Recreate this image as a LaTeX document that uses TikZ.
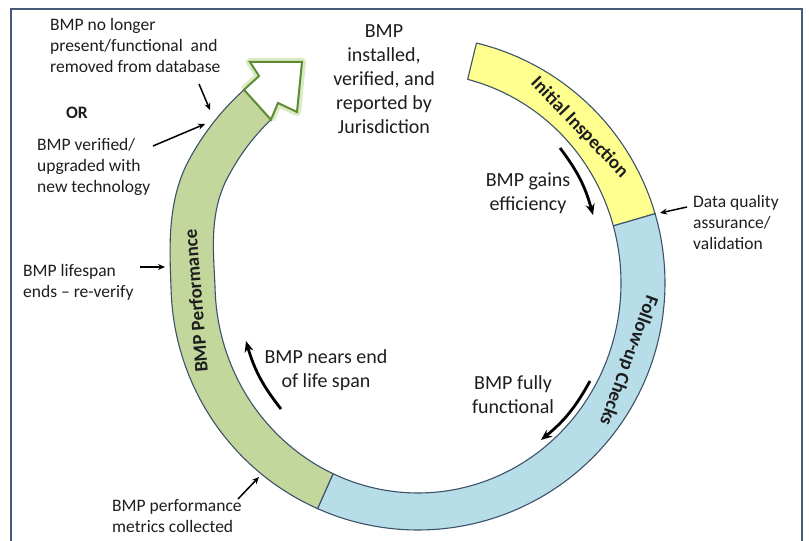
\documentclass[tikz,border=0pt]{standalone}
\usepackage{fontspec}
\setmainfont{Carlito}
\usetikzlibrary{arrows.meta}
\definecolor{bandyellow}{RGB}{255,255,143}
\definecolor{bandblue}{RGB}{183,221,232}
\definecolor{bandgreen}{RGB}{195,214,155}
\definecolor{bandline}{RGB}{60,82,105}
\definecolor{headgreen}{RGB}{95,140,50}
\definecolor{glowgreen}{RGB}{160,205,110}
\definecolor{framecol}{RGB}{70,90,120}
\definecolor{txt}{RGB}{30,30,30}
\begin{document}
\begin{tikzpicture}[x=1pt,y=1pt,
  declare function={
    clampone(\x)=min(1,max(0,\x));
    bmpramp(\t)=13*(clampone((-178-\t)/30))^2*(3-2*clampone((-178-\t)/30));
    ro(\t)=247+bmpramp(\t);
    ri(\t)=203/sqrt((cos(\t))^2+(0.96667*sin(\t))^2)+bmpramp(\t);
  },
  lab/.style={font=\fontsize{17.5}{21}\selectfont, text=txt, inner sep=0pt, align=left},
  big/.style={font=\fontsize{20}{24}\selectfont, text=txt, inner sep=0pt, align=center},
  bandlab/.style={font=\bfseries\fontsize{19}{22}\selectfont, text=txt, inner sep=0pt},
  seg/.style={draw=bandline, line width=1.1pt, line join=round},
  smallarrow/.style={-{Stealth[length=7pt,width=6pt]}, line width=1.5pt, draw=black},
  curvarrow/.style={-{Stealth[length=11pt,width=9pt]}, line width=2.8pt, draw=black},
]
\useasboundingbox (0,0) rectangle (809,541);
\fill[white] (0,0) rectangle (809,541);
% frame
\draw[framecol, line width=2.5pt] (11,0) -- (11,532) -- (802,532) -- (802,0);

% ring segments
\filldraw[seg, fill=bandyellow]
  plot[variable=\t, domain=76.3:16.3, samples=30, smooth] ({418+ro(\t)*cos(\t)},{258+ro(\t)*sin(\t)})
  -- plot[variable=\t, domain=16.3:76.3, samples=30, smooth] ({418+ri(\t)*cos(\t)},{258+ri(\t)*sin(\t)})
  -- cycle;
\filldraw[seg, fill=bandblue]
  plot[variable=\t, domain=16.3:-114, samples=50, smooth] ({418+ro(\t)*cos(\t)},{258+ro(\t)*sin(\t)})
  -- plot[variable=\t, domain=-114:16.3, samples=50, smooth] ({418+ri(\t)*cos(\t)},{258+ri(\t)*sin(\t)})
  -- cycle;
\filldraw[seg, fill=bandgreen]
  plot[variable=\t, domain=-114:-228, samples=50, smooth] ({418+ro(\t)*cos(\t)},{258+ro(\t)*sin(\t)})
  -- plot[variable=\t, domain=-228:-114, samples=50, smooth] ({418+ri(\t)*cos(\t)},{258+ri(\t)*sin(\t)})
  -- cycle;

% hollow arrow head
\coordinate (hS1) at ({418+ro(-228)*cos(-228)},{258+ro(-228)*sin(-228)});
\coordinate (hS2) at ({418+ri(-228)*cos(-228)},{258+ri(-228)*sin(-228)});
\coordinate (hN1) at (259,465);
\coordinate (hA) at (250,479);
\coordinate (hT) at (302,479);
\coordinate (hB) at (297,429);
\coordinate (hN2) at (278,438);
\draw[glowgreen, line width=8pt, opacity=0.4, line join=round]
  (hS1) -- (hN1) -- (hA) -- (hT) -- (hB) -- (hN2) -- (hS2);
\filldraw[fill=white, draw=headgreen, line width=2pt, line join=miter]
  (hS1) -- (hN1) -- (hA) -- (hT) -- (hB) -- (hN2) -- (hS2) -- cycle;

% band labels
\node[bandlab, rotate=-46.1] (l1) at ([shift={(418,258)}] 43.9:224) {Initial Inspection};
\node[bandlab, rotate=-110.2] (l2) at ([shift={(418,258)}] -20.2:224) {Follow-up Checks};
\node[bandlab, rotate=94.6] (l3) at ([shift={(418,258)}] 184.6:223) {BMP Performance};

% texts
\node[lab, anchor=west] (t1) at (50,496) {BMP no longer\\present/functional\ \ and\\removed from database};
\node[lab, font=\bfseries\fontsize{17.5}{21}\selectfont] (or) at (77,428) {OR};
\node[lab, anchor=west] (t2) at (37,374) {BMP verified/\\upgraded with\\new technology};
\node[lab, anchor=west] (t3) at (23,259) {BMP lifespan\\ends – re-verify};
\node[lab, anchor=west] (t4) at (112,25) {BMP performance\\metrics collected};
\node[big] (t5) at (384,461.5) {BMP\\installed,\\verified, and\\reported by\\Jurisdiction};
\node[big] (t6) at (528,348) {BMP gains\\efficiency};
\node[lab, anchor=west] (t7) at (693,319) {Data quality\\assurance/\\validation};
\node[big] (t8) at (513,146) {BMP fully\\functional};
\node[big] (t9) at (326,171) {BMP nears end\\of life span};

% small arrows
\coordinate (a1s) at (199,457); \coordinate (a1e) at (210,431);
\coordinate (a2s) at (153,395); \coordinate (a2e) at (205,417);
\coordinate (a3s) at (140,274); \coordinate (a3e) at (165,274);
\coordinate (a4s) at (238,42);  \coordinate (a4e) at (259,64);
\coordinate (a5s) at (687,334); \coordinate (a5e) at (660,328);
\draw[smallarrow] (a1s) -- (a1e);
\draw[smallarrow] (a2s) -- (a2e);
\draw[smallarrow] (a3s) -- (a3e);
\draw[smallarrow] (a4s) -- (a4e);
\draw[smallarrow] (a5s) -- (a5e);

% curved arrows
\coordinate (c1s) at (560,393); \coordinate (c1e) at (593,326);
\coordinate (c2s) at (590,160); \coordinate (c2e) at (541,101);
\coordinate (c3s) at (281,132); \coordinate (c3e) at (246,200);
\draw[curvarrow] (c1s) to[bend left=11] (c1e);
\draw[curvarrow] (c2s) to[bend left=11] (c2e);
\draw[curvarrow] (c3s) to[bend left=11] (c3e);
\end{tikzpicture}
\end{document}
